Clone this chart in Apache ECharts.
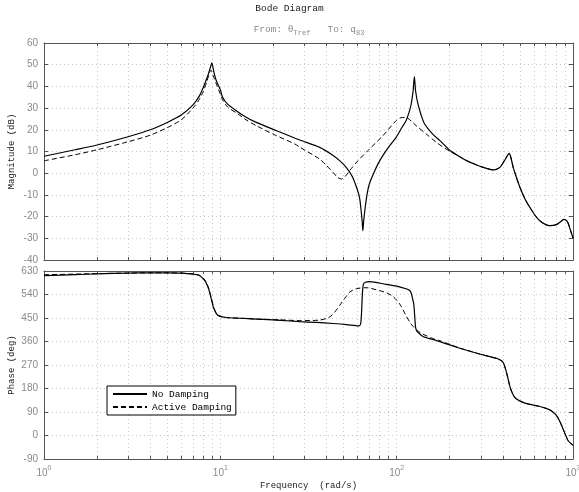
<!DOCTYPE html>
<html>
<head>
<meta charset="utf-8">
<script src="https://cdn.jsdelivr.net/npm/echarts@6/dist/echarts.min.js"></script>
<style>
  html, body { margin: 0; padding: 0; background: #fff; }
  #chart { width: 579px; height: 492px; }
</style>
</head>
<body>
<div id="chart"></div>
<script>
// tick positions on the frequency axis (rad/s)
const freqTicks = [1, 2, 3, 4, 5, 6, 7, 8, 9, 10, 20, 30, 40, 50, 60, 70, 80, 90,
  100, 200, 300, 400, 500, 600, 700, 800, 900, 1000];
const freqLabels = [1, 10, 100, 1000];

// magnitude (dB), [freq, dB]
const magNoDamping = [
  [1, 7.8], [1.5, 10.8], [2, 13], [3, 16.8], [4, 20], [5, 23.4], [6, 26.8], [7, 31.5],
  [7.6, 35.5], [8, 39.5], [8.5, 45], [8.8, 49], [8.95, 50.8], [9.2, 46.5], [9.5, 42.5],
  [10, 38.5], [10.3, 35], [11, 31.8], [12.3, 28.8], [14, 25.8], [16, 23.4], [20.8, 19.6],
  [28, 15.4], [36.6, 11.9], [43, 8.5], [47.5, 5.8], [52, 2.5], [56, -1.5], [59.2, -6.5],
  [61.5, -11], [62.6, -15.8], [63.7, -22], [64.3, -26.5], [65, -22], [66.3, -15.8],
  [68, -9.5], [70, -5], [75, 1], [80.2, 5.8], [90, 12], [99.3, 16.5], [106, 20.5],
  [113, 24.2], [118, 28.5], [121, 32], [124, 38], [126, 44.5], [128, 38], [132, 31.9],
  [138, 26.5], [144, 22.7], [160, 18], [176, 15], [200, 10.6], [228, 7.6], [249, 5.8],
  [280, 4], [310, 2.7], [354, 1.5], [385, 2.7], [410, 6], [435, 9.1], [445, 7], [458, 2.7],
  [478, -2], [500, -6.5], [535, -12], [570, -15.8], [610, -19.5], [648, -21.9], [700, -23.7],
  [737, -24.2], [805, -23.7], [860, -22], [888, -21.3], [910, -21.6], [935, -22.7],
  [965, -26], [1000, -29.9]
];
const magActiveDamping = [
  [1, 5.7], [1.5, 8.5], [2, 10.8], [3, 14.5], [4, 17.5], [5, 21], [6, 24.6], [7, 30],
  [7.6, 34], [8, 37.5], [8.4, 42.5], [8.7, 46.5], [8.85, 47.5], [9.1, 45], [9.5, 41],
  [10, 36.5], [10.3, 33.8], [11, 30.5], [12.6, 27.3], [14, 24.6], [16, 21.9], [20.8, 17.3],
  [26.4, 13.5], [28.2, 12], [36.6, 6.5], [40, 3.5], [43.6, 0.4], [46, -1.8], [48.6, -2.7],
  [51, -1.5], [54.1, 1.2], [60.4, 5.8], [70, 11.1], [83.6, 17.3], [99.3, 24.2], [106, 25.6],
  [113, 25.7], [121, 24], [129, 21.9], [147, 18.1], [168, 14.2], [191, 11.1],
  [228, 7.6], [249, 5.8], [280, 4], [310, 2.7], [354, 1.5], [385, 2.7], [410, 6], [435, 9.1],
  [445, 7], [458, 2.7], [478, -2], [500, -6.5], [535, -12], [570, -15.8], [610, -19.5],
  [648, -21.9], [700, -23.7], [737, -24.2], [805, -23.7], [860, -22], [888, -21.3],
  [910, -21.6], [935, -22.7], [965, -26], [1000, -29.9]
];

// phase (deg), [freq, deg]
const phaseNoDamping = [
  [1, 612], [1.5, 616], [2, 619], [3, 622], [4, 623], [5, 623], [6, 622], [7, 618],
  [7.6, 613], [8, 600], [8.3, 585], [8.6, 560], [8.8, 535], [9.0, 508], [9.2, 485],
  [9.5, 467], [9.8, 458], [10.8, 452], [13, 449], [16, 446], [22, 441], [28.2, 436],
  [35, 433], [43.6, 429], [52, 425], [61, 420], [62.5, 428], [63.3, 480], [64, 550],
  [64.8, 580], [66.5, 587], [70, 589], [87, 579], [100, 572], [113, 562], [118, 556],
  [121, 545], [123, 525], [125, 504], [126.5, 460], [128, 414], [130, 400], [132, 395],
  [141, 379], [160, 368], [176, 359], [200, 347], [228, 334], [292, 313], [374, 294],
  [395, 285], [405, 275], [415, 253], [426, 224], [436, 195], [446, 173], [460, 153],
  [476, 141], [520, 127], [570, 119], [640, 112], [710, 103], [760, 93], [805, 77],
  [845, 52], [877, 26], [910, 0], [935, -18], [970, -30], [1000, -37]
];
const phaseActiveDamping = [
  [1, 616], [1.5, 618], [2, 620], [3, 622], [4, 623], [5, 623], [6, 622], [7, 619],
  [7.6, 614], [8, 603], [8.3, 588], [8.6, 563], [8.8, 538], [9.0, 512], [9.2, 488],
  [9.5, 469], [9.8, 459], [10.8, 452], [13, 449], [16, 446], [22, 443], [28.2, 440],
  [36.6, 442], [41.5, 453], [44.5, 472], [47.5, 498], [51, 527], [54.1, 549], [59, 562],
  [67, 566], [80, 555], [88, 546], [95.5, 532], [104, 504], [113, 459], [118, 437],
  [123, 420], [131, 402], [141, 388], [160, 372], [176, 363], [200, 349], [228, 335],
  [292, 313], [374, 294], [395, 285], [405, 275], [415, 253], [426, 224], [436, 195],
  [446, 173], [460, 153], [476, 141], [520, 127], [570, 119], [640, 112], [710, 103],
  [760, 93], [805, 77], [845, 52], [877, 26], [910, 0], [935, -18], [970, -30], [1000, -37]
];

const mono = 'Liberation Mono';
const sans = 'Liberation Sans';
const frameColor = '#555';
const labelColor = '#8a8a8a';

const chart = echarts.init(document.getElementById('chart'));

function freqAxis(gridIndex, position, showLabels) {
  return {
    type: 'log', logBase: 10, min: 1, max: 1000, gridIndex: gridIndex, position: position,
    axisLine: { show: true, onZero: false, lineStyle: { color: frameColor, width: 1 } },
    axisTick: { show: true, inside: true, length: 3, customValues: freqTicks, lineStyle: { color: frameColor } },
    axisLabel: {
      show: showLabels, customValues: freqLabels, color: labelColor, margin: 6,
      fontFamily: sans, fontSize: 10,
      formatter: v => '{b|10}{s|' + Math.round(Math.log10(v)) + '}',
      rich: {
        b: { fontFamily: sans, fontSize: 10, color: labelColor, verticalAlign: 'bottom' },
        s: { fontFamily: sans, fontSize: 7, color: labelColor, verticalAlign: 'bottom', padding: [0, 0, 6, 0] }
      }
    },
    splitLine: { show: position === 'bottom', lineStyle: { color: '#c8c8c8', type: [1, 3] } }
  };
}

function valAxis(gridIndex, position, min, max, interval, name) {
  const main = position === 'left';
  return {
    type: 'value', gridIndex: gridIndex, position: position, min: min, max: max, interval: interval,
    name: main ? name : '', nameLocation: 'middle', nameGap: 28, nameRotate: 90,
    nameMoveOverlap: false,
    nameTextStyle: { fontFamily: mono, fontSize: 9, color: '#222' },
    axisLine: { show: true, onZero: false, lineStyle: { color: frameColor, width: 1 } },
    axisTick: { show: true, inside: true, length: 4, lineStyle: { color: frameColor } },
    axisLabel: { show: main, color: labelColor, fontFamily: sans, fontSize: 10, margin: 6 },
    splitLine: { show: main, lineStyle: { color: '#c8c8c8', type: [1, 3] } }
  };
}

const option = {
  animation: false,
  backgroundColor: '#fff',
  graphic: [
    {
      type: 'text', left: 'center', top: 3,
      style: { text: 'Bode Diagram', fontFamily: mono, fontSize: 9.5, fill: '#222' }
    },
    {
      type: 'text', x: 309, y: 24,
      style: {
        text: '{a|From: θ}{s|Tref}{a|   To: q}{s|83}', textAlign: 'center',
        rich: {
          a: { fontFamily: mono, fontSize: 9.5, fill: '#8a8a8a', verticalAlign: 'top' },
          s: { fontFamily: mono, fontSize: 7, fill: '#8a8a8a', verticalAlign: 'top', padding: [6, 0, 0, 0] }
        }
      }
    }
  ],
  legend: {
    data: ['No Damping', 'Active Damping'],
    orient: 'vertical', left: 107, top: 386,
    itemWidth: 34, itemHeight: 10, itemGap: 3,
    padding: [3, 4, 3, 5],
    borderColor: '#000', borderWidth: 1, backgroundColor: '#fff',
    itemStyle: { opacity: 0 },
    textStyle: { fontFamily: mono, fontSize: 9.5, color: '#000' }
  },
  grid: [
    { left: 44, right: 6, top: 43, height: 217, outerBoundsMode: 'none' },
    { left: 44, right: 6, top: 271, height: 188, outerBoundsMode: 'none' }
  ],
  xAxis: [
    freqAxis(0, 'bottom', false),
    Object.assign(freqAxis(1, 'bottom', true), {
      name: 'Frequency  (rad/s)', nameLocation: 'middle', nameGap: 22,
      nameTextStyle: { fontFamily: mono, fontSize: 9, color: '#222' }
    }),
    freqAxis(0, 'top', false),
    freqAxis(1, 'top', false)
  ],
  yAxis: [
    valAxis(0, 'left', -40, 60, 10, 'Magnitude (dB)'),
    valAxis(1, 'left', -90, 630, 90, 'Phase (deg)'),
    valAxis(0, 'right', -40, 60, 10, ''),
    valAxis(1, 'right', -90, 630, 90, '')
  ],
  series: [
    {
      name: 'No Damping', type: 'line', xAxisIndex: 0, yAxisIndex: 0, data: magNoDamping,
      symbol: 'none', smooth: 0.25, lineStyle: { color: '#000', width: 1.2 }, itemStyle: { color: '#000' }
    },
    {
      name: 'Active Damping', type: 'line', xAxisIndex: 0, yAxisIndex: 0, data: magActiveDamping,
      symbol: 'none', smooth: 0.25, lineStyle: { color: '#000', width: 1, type: [5, 3] }, itemStyle: { color: '#000' }
    },
    {
      name: 'No Damping', type: 'line', xAxisIndex: 1, yAxisIndex: 1, data: phaseNoDamping,
      symbol: 'none', smooth: 0.25, lineStyle: { color: '#000', width: 1.2 }, itemStyle: { color: '#000' }
    },
    {
      name: 'Active Damping', type: 'line', xAxisIndex: 1, yAxisIndex: 1, data: phaseActiveDamping,
      symbol: 'none', smooth: 0.25, lineStyle: { color: '#000', width: 1, type: [5, 3] }, itemStyle: { color: '#000' }
    }
  ]
};

chart.setOption(option);
</script>
</body>
</html>
